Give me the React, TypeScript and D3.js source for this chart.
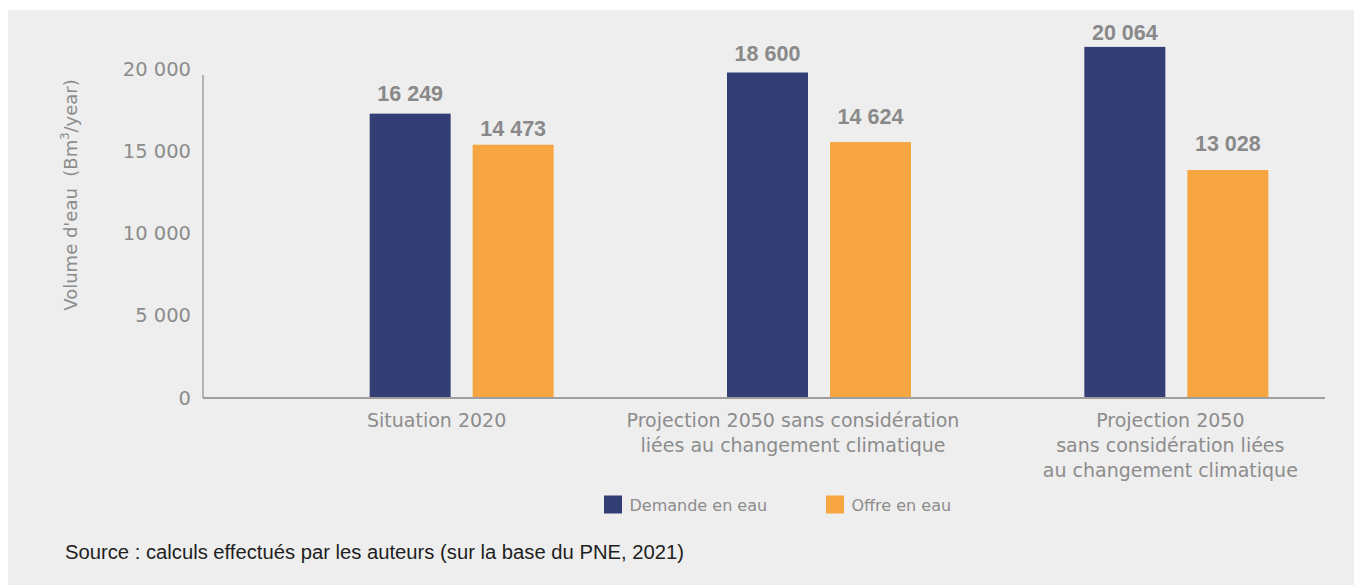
import React from "react";
import * as d3 from "d3";

const categories = ["Situation 2020", "Projection 2050 A", "Projection 2050 B"];
const categoryLabels = [
  ["Situation 2020"],
  ["Projection 2050 sans considération", "liées au changement climatique"],
  ["Projection 2050", "sans considération liées", "au changement climatique"],
];
const series = ["Demande en eau", "Offre en eau"];
const demande = [16249, 18600, 20064];
const offre = [14473, 14624, 13028];
const valueLabels = [
  ["16 249", "14 473"],
  ["18 600", "14 624"],
  ["20 064", "13 028"],
];
const tickValues = [0, 5000, 10000, 15000, 20000];
const tickLabels = ["0", "5 000", "10 000", "15 000", "20 000"];
const colors = ["#333f74", "#f7a540"];

const W = 1354;
const H = 585;
const labelOffsets = [-25, -26, -6];
// distance from bar top to value-label centre, per category / series
const valueGaps = [
  [20, 16.7],
  [19.5, 26],
  [15, 27],
];

export default function App() {
  const x0 = d3.scaleBand<string>().domain(categories).range([283, 1355]).paddingInner(0).paddingOuter(0);
  const x1 = d3.scaleBand<string>().domain(series).range([-92, 92]).paddingInner(0.2136).paddingOuter(0);
  const yBar = d3.scaleLinear().domain([0, 20000]).range([398, 48]);
  const yTick = d3.scaleLinear().domain([0, 20000]).range([397.5, 69]);
  const values = [demande, offre];
  const grey = "#8c8c8c";

  return (
    <svg width={W} height={H} style={{ position: "absolute", left: 0, top: 0, display: "block" }}>
      <rect x={0} y={0} width={W} height={H} fill="#ffffff" />
      <rect x={8} y={10} width={W - 8} height={H - 10} fill="#eeeeee" />

      {/* y tick labels */}
      {tickValues.map((t, i) => (
        <text
          key={t}
          x={191}
          y={yTick(t)}
          dy="0.36em"
          textAnchor="end"
          fontFamily="DejaVu Sans"
          fontSize={19.5}
          fill={grey}
        >
          {tickLabels[i]}
        </text>
      ))}

      {/* y title */}
      <text
        transform="translate(76.5,195) rotate(-90)"
        textAnchor="middle"
        fontFamily="DejaVu Sans"
        fontSize={18}
        fill={grey}
        style={{ whiteSpace: "pre" }}
      >
        {"Volume d'eau  (Bm"}
        <tspan fontSize={11.5} dy={-7.5}>3</tspan>
        <tspan dy={7.5}>{"/year)"}</tspan>
      </text>

      {/* bars */}
      {categories.map((c, ci) => {
        const cx = (x0(c) as number) + x0.bandwidth() / 2;
        return (
          <g key={c}>
            {series.map((s, si) => {
              const v = values[si][ci];
              const bx = cx + (x1(s) as number);
              return (
                <g key={s}>
                  <rect x={bx} y={yBar(v)} width={x1.bandwidth()} height={yBar(0) - yBar(v)} fill={colors[si]} />
                  <text
                    x={bx + x1.bandwidth() / 2}
                    y={yBar(v) - valueGaps[ci][si]}
                    dy="0.36em"
                    textAnchor="middle"
                    fontFamily="Liberation Sans"
                    fontWeight="bold"
                    fontSize={21.5}
                    fill="#898989"
                  >
                    {valueLabels[ci][si]}
                  </text>
                </g>
              );
            })}
            {categoryLabels[ci].map((line, li) => (
              <text
                key={li}
                x={cx + labelOffsets[ci]}
                y={426.5 + li * 25}
                textAnchor="middle"
                fontFamily="DejaVu Sans"
                fontSize={19}
                fill={grey}
              >
                {line}
              </text>
            ))}
          </g>
        );
      })}

      {/* axes */}
      <line x1={203} x2={203} y1={75} y2={yBar(0)} stroke="#9e9e9e" strokeWidth={1.5} />
      <line x1={203} x2={1325} y1={yBar(0)} y2={yBar(0)} stroke="#9e9e9e" strokeWidth={2} />

      {/* legend */}
      {series.map((s, si) => {
        const lx = [604, 826][si];
        return (
          <g key={s}>
            <rect x={lx} y={495.5} width={18} height={18} fill={colors[si]} />
            <text x={lx + 25.5} y={510.5} fontFamily="DejaVu Sans" fontSize={16} fill={grey}>
              {s}
            </text>
          </g>
        );
      })}

      {/* source */}
      <text
        x={65}
        y={559}
        fontFamily="Liberation Sans"
        fontSize={19.5}
        fill="#1e1e1e"
        textLength={619}
        lengthAdjust="spacingAndGlyphs"
      >
        Source : calculs effectués par les auteurs (sur la base du PNE, 2021)
      </text>
    </svg>
  );
}
